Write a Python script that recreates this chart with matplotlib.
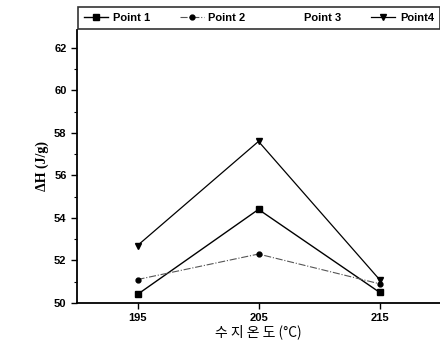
import numpy as np
import matplotlib.pyplot as plt

temps = [195, 205, 215]
point1 = [50.4, 54.4, 50.5]
point2 = [51.1, 52.3, 50.9]
point4 = [52.7, 57.6, 51.1]

fig = plt.figure(figsize=(4.4, 3.51), dpi=100)
ax = fig.add_axes([0.175, 0.137, 0.825, 0.778])

ax.plot(temps, point1, '-s', color='black', lw=1.0, ms=4, label='Point 1')
ax.plot(temps, point2, '-.o', color='#555555', lw=0.8, ms=3.5, mfc='black', mec='black', label='Point 2')
ax.plot([], [], ls='none', label='Point 3')
ax.plot(temps, point4, '-v', color='black', lw=0.9, ms=4.5, label='Point4')

ax.set_xlim(190, 220)
ax.set_ylim(50, 62.85)
ax.set_xticks(temps)
ax.set_yticks(np.arange(50, 63, 2))
ax.set_yticks(np.arange(51, 63, 2), minor=True)

for side in ['top', 'right']:
    ax.spines[side].set_visible(False)
ax.spines['left'].set_linewidth(1.3)
ax.spines['bottom'].set_linewidth(1.3)
ax.tick_params(direction='out', width=1.0, length=4, labelsize=8)
ax.tick_params(which='minor', direction='out', length=2.5, width=0.8)
for lab in ax.get_xticklabels() + ax.get_yticklabels():
    lab.set_fontweight('bold')
    lab.set_family('Liberation Sans')

ax.set_ylabel('ΔH (J/g)', family='Liberation Serif', fontweight='bold', fontsize=10)
ax.set_xlabel('수 지 온 도 (°C)', family=['Noto Sans CJK KR', 'DejaVu Sans'], fontsize=10, labelpad=1)

leg = fig.legend(loc='lower left', bbox_to_anchor=(0.177, 0.917, 0.823, 0.072), mode='expand',
                 ncol=4, frameon=True, fancybox=False, edgecolor='black',
                 prop={'family': 'Liberation Sans', 'weight': 'bold', 'size': 8},
                 handlelength=2.2, handletextpad=0.4, columnspacing=1.0, borderpad=0.55,
                 borderaxespad=0)
leg.get_frame().set_linewidth(1.2)

fig.savefig('out.png', dpi=100)
